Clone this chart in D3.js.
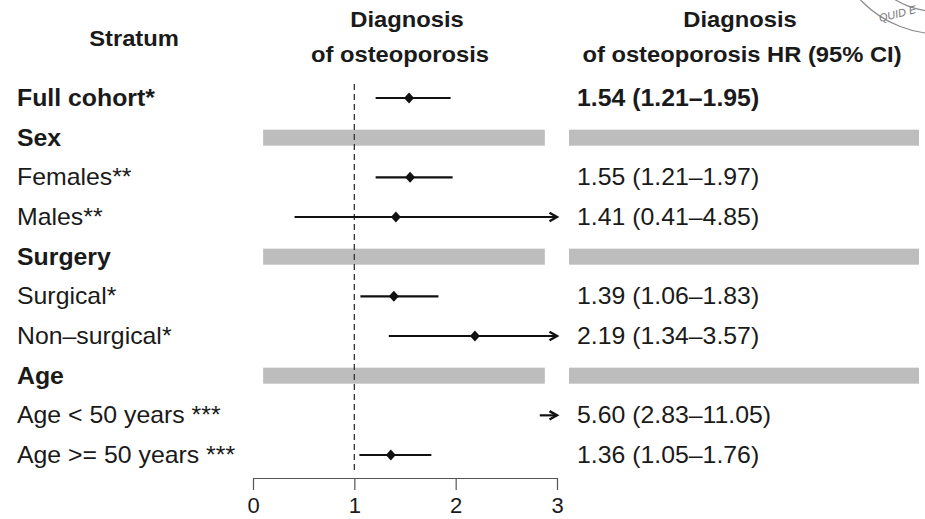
<!DOCTYPE html>
<html>
<head>
<meta charset="utf-8">
<script src="https://d3js.org/d3.v7.min.js"></script>
<style>
body { margin: 0; background: #fff; }
svg { font-family: "Liberation Sans", Arial, Helvetica, sans-serif; }
</style>
</head>
<body>
<svg width="925" height="519"></svg>
<script>
// Data
var strata  = ["Full cohort*", "Sex", "Females**", "Males**", "Surgery", "Surgical*", "Non\u2013surgical*", "Age", "Age < 50 years ***", "Age >= 50 years ***"];
var isGroup = [false, true, false, false, true, false, false, true, false, false];
var isBold  = [true, true, false, false, true, false, false, true, false, false];
var hr      = [1.54, null, 1.55, 1.41, null, 1.39, 2.19, null, 5.60, 1.36];
var lower   = [1.21, null, 1.21, 0.41, null, 1.06, 1.34, null, 2.83, 1.05];
var upper   = [1.95, null, 1.97, 4.85, null, 1.83, 3.57, null, 11.05, 1.76];
var xTicks  = [0, 1, 2, 3];

var svg = d3.select("svg");
var x = d3.scaleLinear().domain([0, 3]).range([253, 557]);
var y = d3.scalePoint().domain(d3.range(strata.length)).range([98, 455]);
var xMax = x.domain()[1];
var sx = 1.08; // text in the picture is a bit stretched sideways

var rows = strata.map(function(s, i) {
  return {label: s, group: isGroup[i], bold: isBold[i], hr: hr[i], lo: lower[i], hi: upper[i], i: i};
});

// faint stamp in top right corner
var stamp = svg.append("g").attr("fill", "none").attr("stroke", "#8a8a8a").attr("stroke-width", 1.2);
stamp.append("circle").attr("cx", 940).attr("cy", -76).attr("r", 110);
stamp.append("circle").attr("cx", 940).attr("cy", -76).attr("r", 88);
svg.append("text").attr("x", 880).attr("y", 22).attr("font-size", 11).attr("font-style", "italic")
  .attr("fill", "#777").attr("transform", "rotate(-14,880,22)").text("QUID E");

// headers
function header(t, cx, by) {
  svg.append("text")
    .attr("transform", "translate(" + cx + "," + by + ") scale(" + sx + ",1)")
    .attr("text-anchor", "middle").attr("font-weight", "bold").attr("font-size", 22)
    .attr("fill", "#1a1a1a").text(t);
}
header("Stratum", 134, 46);
header("Diagnosis", 407, 27);
header("of osteoporosis", 400, 62);
header("Diagnosis", 740, 27);
header("of osteoporosis HR (95% CI)", 742, 62);

// gray bands for group rows
var groups = rows.filter(function(d) { return d.group; });
svg.append("g").selectAll("rect.l").data(groups).enter().append("rect")
  .attr("x", x(0.1)).attr("width", x(2.88) - x(0.1))
  .attr("y", function(d) { return y(d.i) - 8; }).attr("height", 16)
  .attr("fill", "#bdbdbd");
svg.append("g").selectAll("rect.r").data(groups).enter().append("rect")
  .attr("x", 569).attr("width", 350)
  .attr("y", function(d) { return y(d.i) - 8; }).attr("height", 16)
  .attr("fill", "#bdbdbd");

// reference line at HR = 1
svg.append("line")
  .attr("x1", x(1)).attr("x2", x(1)).attr("y1", 84).attr("y2", 472)
  .attr("stroke", "#333").attr("stroke-width", 1.3).attr("stroke-dasharray", "6,4");

// arrow marker
svg.append("defs").append("marker")
  .attr("id", "arr").attr("markerUnits", "userSpaceOnUse")
  .attr("markerWidth", 14).attr("markerHeight", 14).attr("refX", 10).attr("refY", 6)
  .attr("orient", "auto")
  .append("path").attr("d", "M2.5,1.8 L10,6 L2.5,10.2").attr("fill", "none")
  .attr("stroke", "#111").attr("stroke-width", 2.4);

// confidence intervals
var est = rows.filter(function(d) { return d.hr !== null; });
svg.append("g").selectAll("line").data(est).enter().append("line")
  .attr("x1", function(d) { return x(Math.max(d.lo, 0)); })
  .attr("x2", function(d) { return x(Math.min(d.hi, xMax)); })
  .attr("y1", function(d) { return y(d.i); })
  .attr("y2", function(d) { return y(d.i); })
  .attr("stroke", "#111").attr("stroke-width", 2.2)
  .attr("marker-end", function(d) { return d.hi > xMax ? "url(#arr)" : null; });

// point estimates
svg.append("g").selectAll("path").data(est.filter(function(d) { return d.hr <= xMax; })).enter().append("path")
  .attr("d", "M0,-5.5 L5,0 L0,5.5 L-5,0 Z")
  .attr("transform", function(d) { return "translate(" + x(d.hr) + "," + y(d.i) + ")"; })
  .attr("fill", "#111");

// row labels
svg.append("g").selectAll("text").data(rows).enter().append("text")
  .attr("transform", function(d) { return "translate(17," + (y(d.i) + 8) + ") scale(" + sx + ",1)"; })
  .attr("font-size", 23)
  .attr("font-weight", function(d) { return d.bold ? "bold" : "normal"; })
  .attr("fill", "#1a1a1a")
  .text(function(d) { return d.label; });

// HR text column
var f = d3.format(".2f");
svg.append("g").selectAll("text").data(est).enter().append("text")
  .attr("transform", function(d) { return "translate(577," + (y(d.i) + 8) + ") scale(" + sx + ",1)"; })
  .attr("font-size", 23)
  .attr("font-weight", function(d) { return d.bold ? "bold" : "normal"; })
  .attr("fill", "#1a1a1a")
  .text(function(d) { return f(d.hr) + " (" + f(d.lo) + "\u2013" + f(d.hi) + ")"; });

// x axis
var ax = svg.append("g").attr("transform", "translate(0,478)")
  .call(d3.axisBottom(x).tickValues(xTicks).tickSize(12).tickSizeOuter(0).tickFormat(d3.format("d")));
ax.select(".domain").attr("stroke", "#555").attr("stroke-width", 1.2);
ax.selectAll(".tick line").attr("stroke", "#555").attr("stroke-width", 1.2);
ax.selectAll(".tick text").attr("font-size", 22).attr("fill", "#1a1a1a").attr("dy", "0.9em")
  .style("font-family", "Liberation Sans, Arial, sans-serif");
</script>
</body>
</html>
